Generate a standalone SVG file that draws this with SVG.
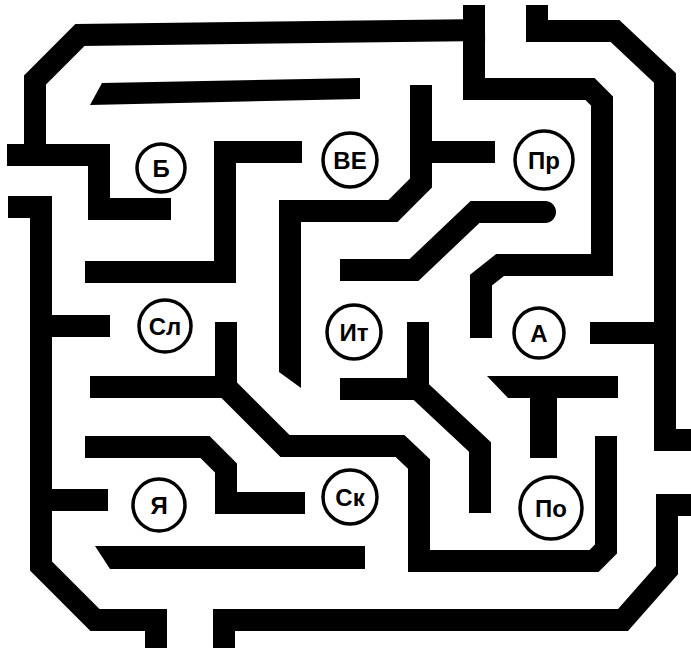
<svg xmlns="http://www.w3.org/2000/svg" width="691" height="652" viewBox="0 0 691 652">
<style>
.w{fill:none;stroke:#000;stroke-width:22;stroke-linejoin:miter;stroke-miterlimit:4;stroke-linecap:butt}
.f{fill:#000;stroke:none}
.c{fill:#fff;stroke:#000;stroke-width:3.5}
.t{font-family:"Liberation Sans",Arial,sans-serif;font-weight:bold;font-size:24px;text-anchor:middle;fill:#000}
</style>
<rect width="691" height="652" fill="#fff"/>
<g id="walls">
<polyline class="w" points="171,209 99,209 99,155 7,155"/>
<polyline class="w" points="35,155 35,80 80,35 485,30"/>
<polyline class="w" points="474,5 474,89 590,89 602,101 602,265 500,265 481,280 481,338"/>
<polyline class="w" points="537,5 537,31 615,31 665,78 665,440 691,440"/>
<polyline class="w" points="590,333 665,333"/>
<polyline class="w" points="691,505 667,505 667,570 623,620 224,620 224,648"/>
<polyline class="w" points="156,648 156,620 95,620 41,566 41,207 8,207"/>
<polyline class="w" points="41,326 110,326"/>
<polyline class="w" points="41,500 108,500"/>
<polygon class="f" points="90,105 102,83 360,78 360,99"/>
<polyline class="w" points="302,152 225,152 225,272 85,272"/>
<polyline class="w" points="495,152 421,152"/>
<polyline class="w" points="421,85 421,183 393,211 290,211 290,372"/>
<polygon class="f" points="279,371 301,371 301,388 279,372"/>
<polyline class="w" points="340,270 414,270 475,212 545,212"/>
<circle class="f" cx="545" cy="212" r="11"/>
<polyline class="w" points="418,322 418,400"/>
<polyline class="w" points="340,389 418,389 480,447 480,513"/>
<polyline class="w" points="90,387 226,387"/>
<polyline class="w" points="226,322 226,387 285,446 400,446 419,464 419,561 594,561 606,549 606,436"/>
<polyline class="w" points="85,447 205,447 226,468 226,503 305,503"/>
<polygon class="f" points="95,546 365,546 365,569 110,569"/>
<polygon class="f" points="487,376 618,376 618,398 557,398 557,458 530,458 530,398 508,398"/>
</g>
<g id="node-b"><circle class="c" cx="161" cy="168" r="24"/><text class="t" x="161" y="177">Б</text></g>
<g id="node-ve"><circle class="c" cx="350" cy="160" r="27"/><text class="t" x="350" y="169">ВЕ</text></g>
<g id="node-pr"><circle class="c" cx="544" cy="160" r="29"/><text class="t" x="544" y="169">Пр</text></g>
<g id="node-sl"><circle class="c" cx="165" cy="326" r="26"/><text class="t" x="165" y="335">Сл</text></g>
<g id="node-it"><circle class="c" cx="354" cy="332" r="27"/><text class="t" x="354" y="341">Ит</text></g>
<g id="node-a"><circle class="c" cx="539" cy="333" r="25"/><text class="t" x="539" y="342">А</text></g>
<g id="node-ya"><circle class="c" cx="159" cy="505" r="26"/><text class="t" x="159" y="514">Я</text></g>
<g id="node-sk"><circle class="c" cx="350" cy="497" r="27"/><text class="t" x="350" y="506">Ск</text></g>
<g id="node-po"><circle class="c" cx="551" cy="508" r="31"/><text class="t" x="551" y="517">По</text></g>
</svg>
